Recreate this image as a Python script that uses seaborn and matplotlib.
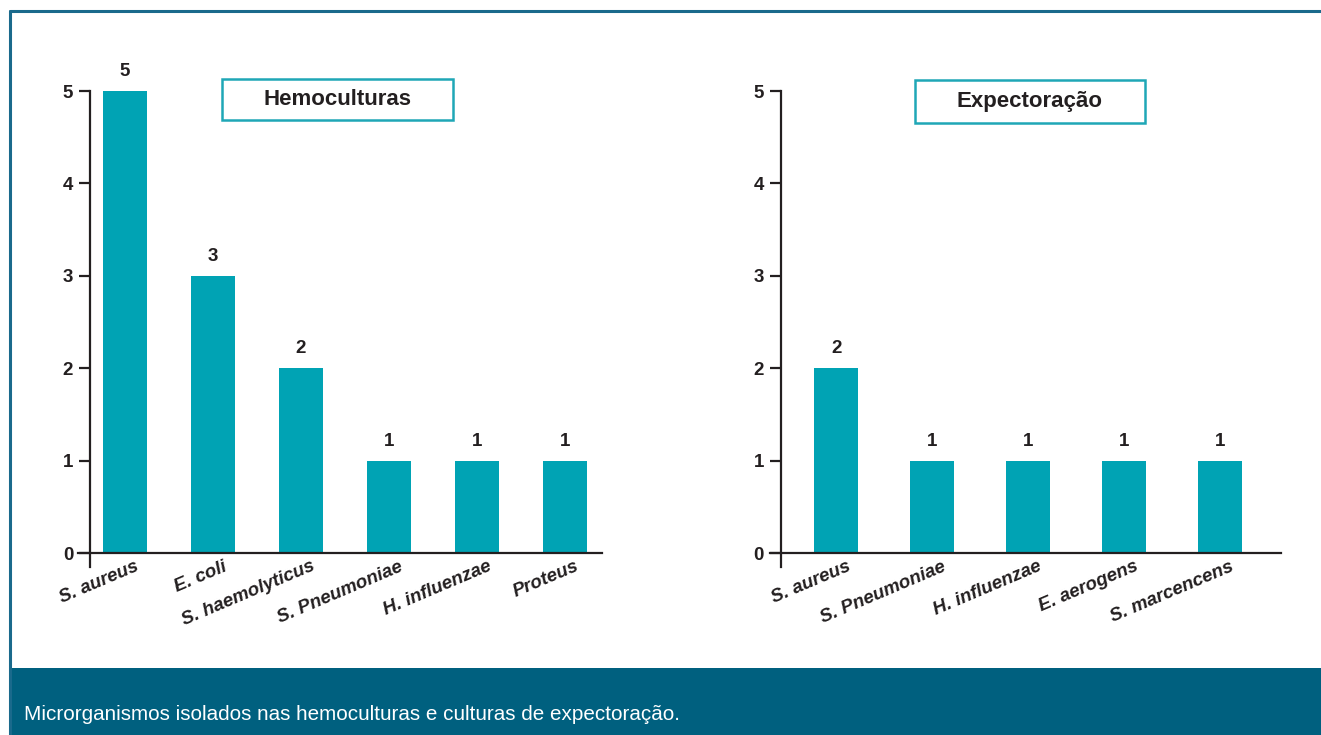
import matplotlib
matplotlib.use("Agg")
import matplotlib.pyplot as plt
import matplotlib.patches as mpatches
import matplotlib.transforms as mtransforms
from matplotlib import font_manager
import seaborn as sns

# Data
hemo_labels = ["S. aureus", "E. coli", "S. haemolyticus", "S. Pneumoniae", "H. influenzae", "Proteus"]
hemo_values = [5, 3, 2, 1, 1, 1]
expect_labels = ["S. aureus", "S. Pneumoniae", "H. influenzae", "E. aerogens", "S. marcencens"]
expect_values = [2, 1, 1, 1, 1]
y_ticks = [0, 1, 2, 3, 4, 5]
panel_titles = ["Hemoculturas", "Expectoração"]
caption = "Microrganismos isolados nas hemoculturas e culturas de expectoração."

sns.set_theme(style="white")
available = {f.name for f in font_manager.fontManager.ttflist}
narrow = "Liberation Sans Narrow" if "Liberation Sans Narrow" in available else "Liberation Sans"
plt.rcParams["font.family"] = [narrow, "DejaVu Sans"]

BAR = "#00a3b4"
INK = "#231f20"
FRAME = "#1a6a8c"
BAND = "#00607f"

W, H = 1321, 735
fig = plt.figure(figsize=(W / 100, H / 100), dpi=100)
fig.patch.set_facecolor("white")


def px_axes(left, right, top, bottom):
    return fig.add_axes([left / W, 1 - bottom / H, (right - left) / W, (bottom - top) / H])


def draw_panel(ax, labels, values, xlim, spine_x, width):
    sns.barplot(x=labels, y=values, ax=ax, color=BAR, width=width,
                saturation=1, edgecolor="none")
    ax.set_xlim(*xlim)
    ax.set_ylim(-0.15, 5.6)
    ax.set_facecolor("none")
    for s in ["top", "right"]:
        ax.spines[s].set_visible(False)
    ax.spines["left"].set_position(("data", spine_x))
    ax.spines["left"].set_bounds(-0.15, 5)
    ax.spines["bottom"].set_position(("data", 0))
    for s in ["left", "bottom"]:
        ax.spines[s].set_color(INK)
        ax.spines[s].set_linewidth(1.6)
        ax.spines[s].set_zorder(3)
    ax.set_yticks(y_ticks)
    ax.set_yticklabels([str(t) for t in y_ticks], fontsize=13.5, fontweight="bold", color=INK)
    ax.tick_params(axis="y", direction="out", length=8, width=1.6, color=INK, pad=4, left=True)
    ax.tick_params(axis="x", length=0, bottom=False, labelbottom=False)
    ax.set_xlabel("")
    ax.set_ylabel("")
    offset = mtransforms.ScaledTranslation(10 / 100, -5 / 100, fig.dpi_scale_trans)
    for i, (lab, v) in enumerate(zip(labels, values)):
        ax.text(i, 0, lab, rotation=23, rotation_mode="anchor", ha="right", va="top",
                fontsize=13.5, fontweight="bold", fontstyle="italic", color=INK,
                transform=ax.transData + offset)
        ax.annotate(str(v), (i, v), xytext=(0, 8), textcoords="offset points",
                    ha="center", va="bottom", fontsize=13.5, fontweight="bold", color=INK)


# Left panel: 88 px per category, first bar centred at x=125
ax1 = px_axes(78.4, 602, 35.6, 566.9)
draw_panel(ax1, hemo_labels, hemo_values, (-0.53, 5.42), -0.40, 0.5)

# Right panel: 96 px per category, first bar centred at x=836
ax2 = px_axes(770, 1281, 35.6, 566.9)
draw_panel(ax2, expect_labels, expect_values, (-0.69, 4.64), -0.58, 0.46)

# Title boxes
for (x0, y0, x1, y1), title in zip([(222, 79, 453, 120), (915, 80, 1145, 123)], panel_titles):
    fig.patches.append(mpatches.Rectangle((x0 / W, 1 - y1 / H), (x1 - x0) / W, (y1 - y0) / H,
                                          transform=fig.transFigure, facecolor="white",
                                          edgecolor="#1fa7b6", linewidth=1.8, zorder=5))
    fig.text((x0 + x1) / 2 / W, 1 - (y0 + y1) / 2 / H, title, ha="center", va="center",
             fontsize=16, fontweight="bold", color=INK, zorder=6)

# Outer frame and caption band
fig.add_artist(plt.Line2D([10 / W, 1], [1 - 11 / H, 1 - 11 / H], transform=fig.transFigure,
                          color=FRAME, linewidth=2.2))
fig.add_artist(plt.Line2D([10 / W, 10 / W], [1 - 11 / H, 0], transform=fig.transFigure,
                          color=FRAME, linewidth=2.2))
fig.patches.append(mpatches.Rectangle((10 / W, 0), 1 - 10 / W, 67 / H, transform=fig.transFigure,
                                      facecolor=BAND, edgecolor="none", zorder=1))
fig.text(24 / W, 1 - 715 / H, caption, ha="left", va="center", fontsize=14.9, color="white", zorder=2)

fig.savefig("out.png", dpi=100, facecolor="white")
